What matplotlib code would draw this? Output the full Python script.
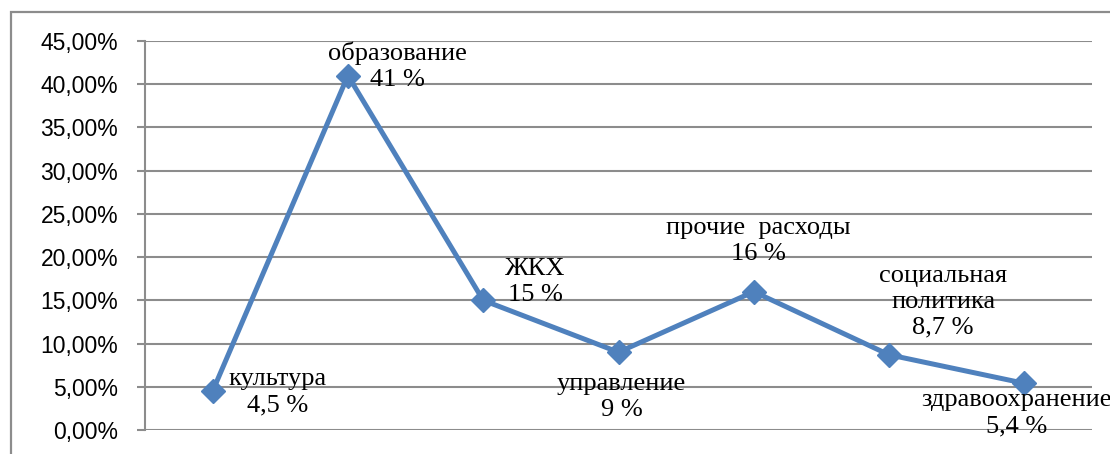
import matplotlib
matplotlib.use('Agg')
import matplotlib.pyplot as plt
from matplotlib.ticker import FuncFormatter, MultipleLocator
from matplotlib.patches import Rectangle

# budget structure, share of expenses
categories = ['культура', 'образование', 'ЖКХ', 'управление',
              'прочие  расходы', 'социальная\nполитика', 'здравоохранение']
values = [0.045, 0.41, 0.15, 0.09, 0.16, 0.087, 0.054]
value_labels = ['4,5 %', '41 %', '15 %', '9 %', '16 %', '8,7 %', '5,4 %']

# label offsets from the points, in pixels (dx, dy)
offsets = [(65, -1), (50, 9), (52, 18), (3, -45), (5, 51), (54, 53), (-8, -30)]

blue = '#4F81BD'
grey = '#8C8C8C'

fig = plt.figure(figsize=(11.1, 4.54), dpi=100)
ax = fig.add_axes([145/1110, 1 - 430/454, (1092 - 145)/1110, (430 - 41)/454])

# outer frame, cut off at right and bottom
fig.patches.append(Rectangle((11/1110, -0.1), 1.2, 1 - 12/454 + 0.1,
                             transform=fig.transFigure, fill=False,
                             edgecolor=grey, linewidth=1.6))

x = list(range(len(values)))
ax.plot(x, values, color=blue, linewidth=3.6, marker='D', markersize=12,
        markerfacecolor=blue, markeredgecolor=blue, zorder=3)

ax.set_xlim(-0.5, len(values) - 0.5)
ax.set_ylim(0, 0.45)
ax.yaxis.set_major_locator(MultipleLocator(0.05))
ax.yaxis.set_major_formatter(FuncFormatter(lambda v, p: ('%.2f%%' % (v*100)).replace('.', ',')))
ax.grid(axis='y', color=grey, linewidth=1.5)
ax.set_axisbelow(True)
ax.set_xticks([])
for s in ['top', 'right', 'bottom']:
    ax.spines[s].set_visible(False)
ax.spines['left'].set_color(grey)
ax.spines['left'].set_linewidth(1.5)
ax.tick_params(axis='y', length=5.8, width=1.5, color=grey, pad=13.5,
               labelsize=16.5)
for lab in ax.get_yticklabels():
    lab.set_fontfamily('Liberation Sans')

for i, (cat, vl) in enumerate(zip(categories, value_labels)):
    dx, dy = offsets[i]
    ax.annotate(cat + '\n' + vl, (x[i], values[i]),
                xytext=(dx * 0.72, dy * 0.72), textcoords='offset points',
                ha='center', va='center', multialignment='center',
                fontsize=19, family='Liberation Serif', linespacing=1.22,
                annotation_clip=False)

fig.savefig('out.png', dpi=100)
